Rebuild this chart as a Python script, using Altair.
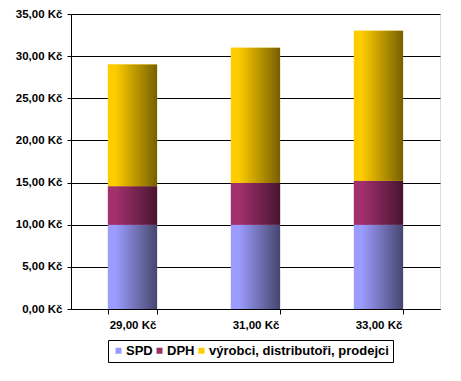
import altair as alt
import pandas as pd

prices = ["29,00 Kč", "31,00 Kč", "33,00 Kč"]
series = ["SPD", "DPH", "výrobci, distributoři, prodejci"]
spd = [10.0, 10.0, 10.0]
dph = [4.55, 4.95, 5.22]
vyrobci = [14.45, 16.05, 17.78]

rows = []
for i, p in enumerate(prices):
    for j, (s, vals) in enumerate(zip(series, [spd, dph, vyrobci])):
        rows.append({"cena": p, "slozka": s, "hodnota": vals[i], "poradi": j})
df = pd.DataFrame(rows)

solid = ["#9999ff", "#993366", "#ffcc00"]
grad_stops = [
    ("#9c9cff", "#46466e"),
    ("#a3306e", "#481530"),
    ("#ffcc00", "#766000"),
]

font = "Liberation Sans"

base = alt.Chart(df).transform_stack(
    stack="hodnota",
    groupby=["cena"],
    as_=["y0", "y1"],
    sort=[alt.SortField("poradi", order="ascending")],
)

xenc = alt.X(
    "cena:N",
    sort=prices,
    title=None,
    scale=alt.Scale(paddingInner=0.6, paddingOuter=0.3),
    axis=alt.Axis(
        labelAngle=0,
        tickBand="extent",
        tickSize=5,
        tickColor="black",
        domainColor="black",
        labelPadding=5,
        labelFont=font,
        labelFontSize=11.5,
        labelFontWeight="bold",
        labelColor="black",
    ),
)
yenc = alt.Y(
    "y0:Q",
    title=None,
    scale=alt.Scale(domain=[0, 35], nice=False),
    axis=alt.Axis(
        values=[0, 5, 10, 15, 20, 25, 30, 35],
        labelExpr="replace(format(datum.value, '.2f'), '.', ',') + ' Kč'",
        grid=True,
        gridColor="black",
        gridOpacity=1,
        tickSize=4,
        tickColor="black",
        domainColor="black",
        labelPadding=5,
        labelFont=font,
        labelFontSize=11.5,
        labelFontWeight="bold",
        labelColor="black",
    ),
)

legend_layer = base.mark_bar().encode(
    x=xenc,
    y=yenc,
    y2="y1:Q",
    color=alt.Color(
        "slozka:N",
        sort=series,
        scale=alt.Scale(domain=series, range=solid),
        legend=alt.Legend(
            title=None,
            orient="none",
            direction="horizontal",
            legendX=37,
            legendY=326,
            strokeColor="black",
            fillColor="white",
            padding=4,
            symbolType="square",
            symbolSize=36,
            symbolStrokeWidth=0,
            columnPadding=0,
            labelFont=font,
            labelFontSize=13,
            labelFontWeight="bold",
            labelColor="black",
            labelOffset=1,
            labelLimit=0,
        ),
    ),
)

layers = [legend_layer]
for s, (light, dark) in zip(series, grad_stops):
    g = alt.Gradient(
        gradient="linear",
        x1=0, x2=1, y1=0, y2=0,
        stops=[
            alt.GradientStop(offset=0, color=light),
            alt.GradientStop(offset=0.15, color=light),
            alt.GradientStop(offset=1, color=dark),
        ],
    )
    layers.append(
        base.transform_filter(alt.datum.slozka == s)
        .mark_bar(fill=g)
        .encode(x=xenc, y=yenc, y2="y1:Q")
    )

chart = (
    alt.layer(*layers)
    .properties(width=369, height=295, padding={"left": 7, "top": 0, "right": 5, "bottom": 5})
    .configure_view(stroke=None)
    .configure(background="white")
)

chart.save("out.html", embed_options={"renderer": "svg", "actions": False})
